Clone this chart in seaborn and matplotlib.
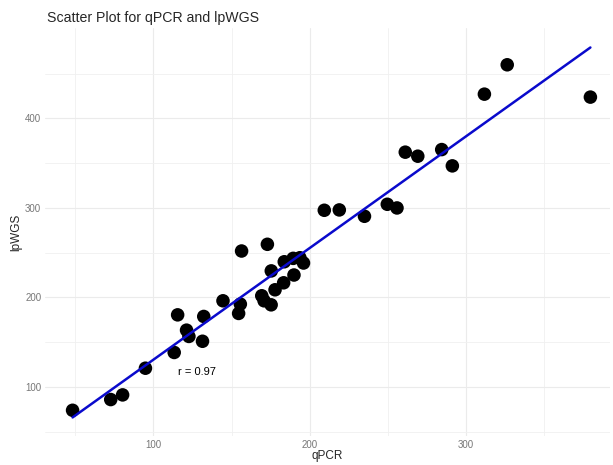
import matplotlib.pyplot as plt
import pandas as pd
import seaborn as sns
import numpy as np

# values
qpcr = [48.3, 72.7, 80.3, 94.9, 113.3, 131.4, 115.5, 132.2, 121.2, 122.7,
        144.5, 154.5, 155.6, 156.4, 172.9, 169.3, 170.8, 175.3, 177.8, 175.4,
        183.3, 189.9, 183.7, 189.4, 193.7, 196.0, 209.3, 218.9, 235.0, 249.6,
        255.8, 261.1, 269.1, 284.4, 291.2, 311.7, 326.3, 379.5]
lpwgs = [73.9, 85.9, 91.1, 120.9, 138.5, 151.0, 180.5, 178.7, 163.4, 156.4,
         196.2, 182.1, 192.5, 251.8, 259.3, 201.8, 196.2, 191.7, 208.5, 229.6,
         216.3, 225.0, 239.8, 243.6, 244.3, 238.4, 297.3, 297.7, 290.6, 304.0,
         299.9, 362.2, 357.7, 365.1, 346.9, 427.0, 459.8, 423.7]
r_label = "r = 0.97"
r_pos = (127.8, 116.4)

df = pd.DataFrame({'qPCR': qpcr, 'lpWGS': lpwgs})

sns.set_style("whitegrid")
plt.rcParams['font.family'] = ['Liberation Sans', 'DejaVu Sans']

fig = plt.figure(figsize=(6.13, 4.65), dpi=100)
ax = fig.add_axes([0.073, 0.062, 0.922, 0.878])

sns.scatterplot(data=df, x='qPCR', y='lpWGS', color='black', s=95,
                edgecolor='none', ax=ax, zorder=3)
sns.regplot(data=df, x='qPCR', y='lpWGS', scatter=False, ci=None, ax=ax,
            line_kws={'color': '#0A0ACC', 'linewidth': 1.8, 'zorder': 4})

ax.text(r_pos[0], r_pos[1], r_label, ha='center', va='center', fontsize=8, color='black')

ax.set_xlim(30.5, 392)
ax.set_ylim(45, 501)
ax.set_xticks([100, 200, 300])
ax.set_yticks([100, 200, 300, 400])
ax.set_xticks([50, 150, 250, 350], minor=True)
ax.set_yticks([50, 150, 250, 350, 450], minor=True)
ax.grid(which='major', color='#EBEBEB', linewidth=0.8)
ax.grid(which='minor', color='#F0F0F0', linewidth=0.6)
ax.set_axisbelow(True)
for s in ax.spines.values():
    s.set_visible(False)
ax.tick_params(which='both', length=0, labelsize=7, colors='#777777', pad=2.5)

ax.set_xlabel('qPCR', fontsize=8.5, labelpad=0.5)
ax.set_ylabel('lpWGS', fontsize=8.5, labelpad=2)
fig.text(0.077, 0.962, 'Scatter Plot for qPCR and lpWGS', fontsize=10.2, ha='left', va='center')

fig.savefig('out.png', dpi=100)
